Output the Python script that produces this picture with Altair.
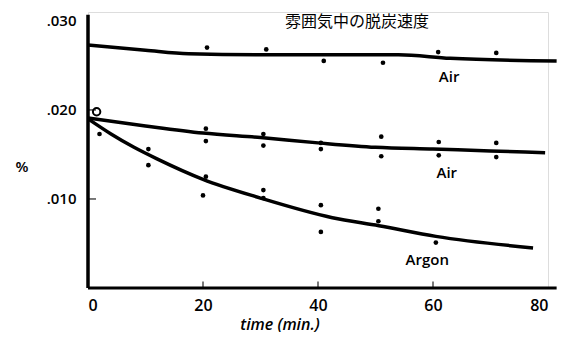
import altair as alt
import pandas as pd

# ---- fitted curves ----
top_air_t = [0, 10, 17.5, 30, 40, 54, 63, 81.5]
top_air_v = [0.0273, 0.0267, 0.0263, 0.0262, 0.0262, 0.0262, 0.0258, 0.0255]
mid_air_t = [0, 10, 20, 30, 40, 50, 60, 70, 79.5]
mid_air_v = [0.0191, 0.0182, 0.0174, 0.0169, 0.0163, 0.0158, 0.0156, 0.0154, 0.0152]
argon_t = [0, 4, 8, 12, 20, 30, 42.5, 50.6, 60.5, 77.4]
argon_v = [0.0190, 0.0173, 0.0158, 0.0145, 0.0122, 0.0101, 0.0079, 0.0070, 0.0058, 0.0045]

# ---- observed points ----
top_pts_t = [20.7, 31, 41, 51.3, 60.9, 71]
top_pts_v = [0.0270, 0.0268, 0.0255, 0.0253, 0.0265, 0.0264]
mid_pts_t = [20.5, 20.5, 30.5, 30.5, 40.5, 40.5, 51, 51, 61, 61, 71, 71]
mid_pts_v = [0.0179, 0.0165, 0.0173, 0.0160, 0.0163, 0.0156, 0.0170, 0.0148, 0.0164, 0.0149, 0.0163, 0.0147]
open_pt_t = [1.5]
open_pt_v = [0.0198]
arg_pts_t = [2, 10.5, 10.5, 20.5, 20, 30.5, 30.5, 40.5, 40.5, 50.5, 50.5, 60.5]
arg_pts_v = [0.0173, 0.0156, 0.0138, 0.0125, 0.0104, 0.0110, 0.0101, 0.0093, 0.0063, 0.0089, 0.0075, 0.0051]

# ---- labels ----
label_text = ["Air", "Air", "Argon"]
label_t = [62.8, 62.4, 59.0]
label_v = [0.0237, 0.0129, 0.0031]

x_ticks = [0, 20, 40, 60, 80]
x_minor = [20, 40, 60]
y_ticks = [0.010, 0.020, 0.030]

FONT = "Open Sans"
xs = alt.Scale(domain=[0, 80], nice=False, zero=False)
ys = alt.Scale(domain=[0, 0.031], nice=False, zero=False)

x_axis = alt.Axis(values=x_ticks, domain=False, ticks=False, grid=False, title=None,
                  labelFontSize=16, labelFont=FONT, labelFontWeight=600,
                  labelPadding=9, labelColor="black")
y_axis = alt.Axis(values=y_ticks, domain=False, ticks=False, grid=False, title=None,
                  labelFontSize=15, labelFont=FONT, labelFontWeight=600,
                  labelPadding=12, labelColor="black",
                  labelExpr="substring(format(datum.value, '.3f'), 1)")

def X(field="t"):
    return alt.X(f"{field}:Q", scale=xs, title=None)

def Y(field="v"):
    return alt.Y(f"{field}:Q", scale=ys, title=None)

curves = pd.concat([
    pd.DataFrame({"t": top_air_t, "v": top_air_v, "s": "top"}),
    pd.DataFrame({"t": mid_air_t, "v": mid_air_v, "s": "mid"}),
    pd.DataFrame({"t": argon_t, "v": argon_v, "s": "argon"}),
])
pts = pd.DataFrame({"t": top_pts_t + mid_pts_t + arg_pts_t,
                    "v": top_pts_v + mid_pts_v + arg_pts_v})
open_df = pd.DataFrame({"t": open_pt_t, "v": open_pt_v})
labels = pd.DataFrame({"t": label_t, "v": label_v, "text": label_text})

lines = alt.Chart(curves).mark_line(color="black", strokeWidth=3.5, interpolate="monotone").encode(
    x=alt.X("t:Q", scale=xs, axis=x_axis), y=alt.Y("v:Q", scale=ys, axis=y_axis), detail="s:N")

dots = alt.Chart(pts).mark_circle(color="black", size=22, opacity=1).encode(x=X(), y=Y())
open_dot = alt.Chart(open_df).mark_point(color="black", size=55, strokeWidth=2, filled=False,
                                         opacity=1).encode(x=X(), y=Y())

lab = alt.Chart(labels).mark_text(font=FONT, fontSize=15, fontWeight=600, color="black").encode(
    x=X(), y=Y(), text="text:N")

# axes lines (hand-drawn style)
xline = alt.Chart(pd.DataFrame({"t": [0], "t2": [81.5], "v": [0]})).mark_rule(
    color="black", strokeWidth=3).encode(x=X(), x2="t2:Q", y=Y())
yline = alt.Chart(pd.DataFrame({"t": [0], "v": [0], "v2": [0.0307]})).mark_rule(
    color="black", strokeWidth=3.5).encode(x=X(), y=Y(), y2="v2:Q")
xt = alt.Chart(pd.DataFrame({"t": x_minor, "v": [0] * len(x_minor)})).mark_tick(
    color="black", size=7, thickness=1.5, orient="vertical", yOffset=-3).encode(x=X(), y=Y())
yt = alt.Chart(pd.DataFrame({"t": [0, 0], "v": y_ticks[:2]})).mark_tick(
    color="black", size=8, thickness=1.5, orient="horizontal", xOffset=4).encode(x=X(), y=Y())

xtitle = alt.Chart(pd.DataFrame({"text": ["time (min.)"]})).mark_text(
    font=FONT, fontSize=16, fontWeight=600, fontStyle="italic", color="black").encode(
    x=alt.value(192), y=alt.value(313), text="text:N")
pct = alt.Chart(pd.DataFrame({"text": ["%"]})).mark_text(
    font=FONT, fontSize=15, fontWeight=600, color="black").encode(
    x=alt.value(-66), y=alt.value(155), text="text:N")
title = alt.Chart(pd.DataFrame({"text": ["雰囲気中の脱炭速度"]})).mark_text(
    font="Noto Sans CJK JP", fontSize=16, color="black", baseline="top").encode(
    x=alt.value(269), y=alt.value(2), text="text:N")

chart = alt.layer(lines, xline, yline, xt, yt, dots, open_dot, lab, xtitle, pct, title).properties(
    width=460, height=276,
    padding={"left": 80, "top": 4, "right": 12, "bottom": 48},
    autosize=alt.AutoSizeParams(type="none"),
).configure_view(stroke=None).configure(background="white")

chart.save("out.html", embed_options={"renderer": "svg", "actions": False})
